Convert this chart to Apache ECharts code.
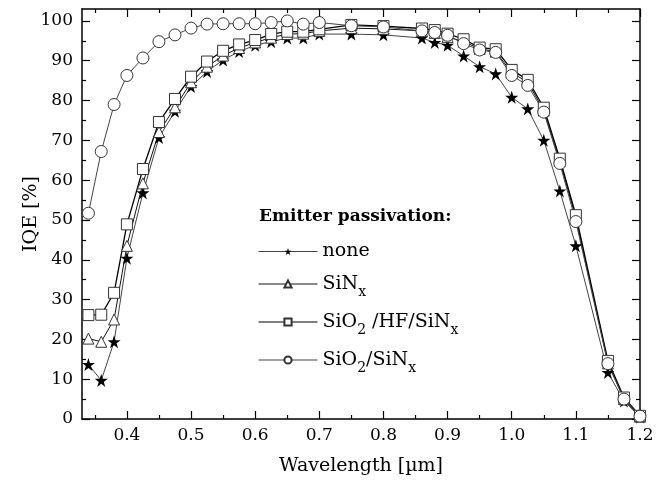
<!DOCTYPE html>
<html>
<head>
<meta charset="utf-8">
<script src="https://cdn.jsdelivr.net/npm/echarts@6/dist/echarts.min.js"></script>
<style>
  html, body { margin: 0; padding: 0; background: #fff; }
  #chart { width: 666px; height: 481px; }
</style>
</head>
<body>
<div id="chart"></div>
<script>
const wavelength = [0.34, 0.36, 0.38, 0.40, 0.425, 0.45, 0.475, 0.50, 0.525, 0.55, 0.575, 0.60, 0.625, 0.65, 0.675, 0.70,
  0.75, 0.80, 0.86, 0.88, 0.90, 0.925, 0.95, 0.975, 1.00, 1.025, 1.05, 1.075, 1.10, 1.15, 1.175, 1.20]

const iqeNone = [13.7, 9.7, 19.4, 40.4, 56.8, 70.7, 77.3, 83.5, 87.3, 90.2, 92.3, 93.9, 94.8, 95.7, 95.7, 96.7,
  96.7, 96.5, 95.7, 94.6, 93.9, 91.2, 88.5, 86.7, 80.8, 77.9, 70.0, 57.3, 43.5, 11.7, 4.5, 0.5]
const iqeSiN = [20.2, 19.4, 25.0, 43.5, 59.2, 72.1, 78.3, 84.6, 88.5, 91.3, 93.2, 94.6, 95.8, 96.7, 96.8, 97.5,
  98.2, 98.0, 97.5, 97.0, 96.0, 94.8, 93.0, 92.3, 87.0, 84.6, 77.5, 64.8, 50.5, 14.0, 5.0, 0.6]
const iqeHF = [26.1, 26.2, 31.7, 48.9, 62.8, 74.6, 80.4, 86.0, 89.8, 92.5, 94.1, 95.2, 96.7, 97.3, 97.3, 97.9,
  99.0, 98.7, 98.1, 97.7, 96.8, 95.4, 93.3, 92.9, 87.7, 85.2, 78.2, 65.4, 51.2, 14.6, 5.4, 0.8]
const iqeSiO2 = [51.7, 67.2, 79.0, 86.3, 90.7, 94.8, 96.5, 98.2, 99.2, 99.3, 99.3, 99.3, 99.6, 100.0, 99.2, 99.6,
  98.8, 98.5, 97.5, 97.1, 96.4, 94.3, 92.7, 92.1, 86.3, 83.8, 77.1, 64.2, 49.6, 13.9, 5.0, 0.7]

const xTicks = [0.4, 0.5, 0.6, 0.7, 0.8, 0.9, 1.0, 1.1, 1.2]
const xMinor = [0.35, 0.45, 0.55, 0.65, 0.75, 0.85, 0.95, 1.05, 1.15]
const yTicks = [0, 10, 20, 30, 40, 50, 60, 70, 80, 90, 100]
const yMinor = [5, 15, 25, 35, 45, 55, 65, 75, 85, 95]

const FONT = 'DejaVu Serif'
const X_MIN = 0.33, X_MAX = 1.2, Y_MIN = 0, Y_MAX = 103

const STAR = 'path://M50,0 L61.8,35.5 L99,35.5 L69,57.5 L80.5,93 L50,71 L19.5,93 L31,57.5 L1,35.5 L38.2,35.5 Z'

const pairs = (ys) => wavelength.map((w, i) => [w, ys[i]])

const frameAxis = (type, pos, ticks, len, showLine, extra) => Object.assign({
  type: 'value',
  position: pos,
  min: type === 'x' ? X_MIN : Y_MIN,
  max: type === 'x' ? X_MAX : Y_MAX,
  axisLine: { show: showLine, onZero: false, lineStyle: { color: '#000', width: 1.5 } },
  axisTick: { show: true, inside: true, length: len, customValues: ticks, lineStyle: { color: '#000', width: 1.2 } },
  axisLabel: { show: false },
  splitLine: { show: false },
}, extra || {})

const series = [
  { name: 'none', data: pairs(iqeNone), symbol: STAR, symbolSize: 13,
    itemStyle: { color: '#000', borderWidth: 0 }, lineStyle: { color: '#444', width: 1 } },
  { name: 'SiN', data: pairs(iqeSiN), symbol: 'triangle', symbolSize: 11,
    itemStyle: { color: '#fff', borderColor: '#333', borderWidth: 1 }, lineStyle: { color: '#111', width: 1 } },
  { name: 'HF', data: pairs(iqeHF), symbol: 'rect', symbolSize: 11,
    itemStyle: { color: '#fff', borderColor: '#333', borderWidth: 1 }, lineStyle: { color: '#000', width: 1.3 } },
  { name: 'SiO2', data: pairs(iqeSiO2), symbol: 'circle', symbolSize: 12,
    itemStyle: { color: '#fff', borderColor: '#333', borderWidth: 1 }, lineStyle: { color: '#444', width: 1 } },
].map(s => Object.assign({ type: 'line', xAxisIndex: 0, yAxisIndex: 0, showAllSymbol: true, animation: false }, s))

const legendText = {
  none: '{n|none}',
  SiN: '{n|SiN}{s|x}',
  HF: '{n|SiO}{s|2}{n| /HF/SiN}{s|x}',
  SiO2: '{n|SiO}{s|2}{n|/SiN}{s|x}',
}

const chart = echarts.init(document.getElementById('chart'))
chart.setOption({
  animation: false,
  textStyle: { fontFamily: FONT, color: '#000' },
  grid: { left: 82, right: 26, top: 9, bottom: 61 },
  title: {
    text: 'Emitter passivation:',
    left: 254, top: 203,
    textStyle: { fontFamily: FONT, fontWeight: 'bold', fontSize: 17, color: '#000' },
  },
  legend: {
    orient: 'vertical',
    left: 253, top: 237,
    itemWidth: 59, itemHeight: 9, itemGap: 8,
    data: ['none', 'SiN', 'HF', 'SiO2'],
    formatter: (name) => legendText[name],
    lineStyle: { width: 1 },
    textStyle: {
      rich: {
        n: { fontFamily: FONT, fontSize: 19, lineHeight: 30, color: '#000' },
        s: { fontFamily: FONT, fontSize: 14, lineHeight: 14, padding: [16, 0, 0, 0], color: '#000' },
      },
    },
  },
  xAxis: [
    frameAxis('x', 'bottom', xTicks, 8, true, {
      name: 'Wavelength [\u00b5m]',
      nameLocation: 'middle', nameGap: 38,
      nameTextStyle: { fontFamily: FONT, fontSize: 19, color: '#000' },
      axisLabel: { show: true, customValues: xTicks, margin: 8, fontFamily: FONT, fontSize: 17, color: '#000',
        formatter: v => v.toFixed(1) },
    }),
    frameAxis('x', 'bottom', xMinor, 4, false),
    frameAxis('x', 'top', xTicks, 8, true),
    frameAxis('x', 'top', xMinor, 4, false),
  ],
  yAxis: [
    frameAxis('y', 'left', yTicks, 8, true, {
      name: 'IQE [%]',
      nameLocation: 'middle', nameGap: 41, nameMoveOverlap: false,
      nameTextStyle: { fontFamily: FONT, fontSize: 19, color: '#000' },
      axisLabel: { show: true, customValues: yTicks, margin: 9, fontFamily: FONT, fontSize: 17, color: '#000' },
    }),
    frameAxis('y', 'left', yMinor, 4, false),
    frameAxis('y', 'right', yTicks, 8, true),
    frameAxis('y', 'right', yMinor, 4, false),
  ],
  series: series,
})
</script>
</body>
</html>
